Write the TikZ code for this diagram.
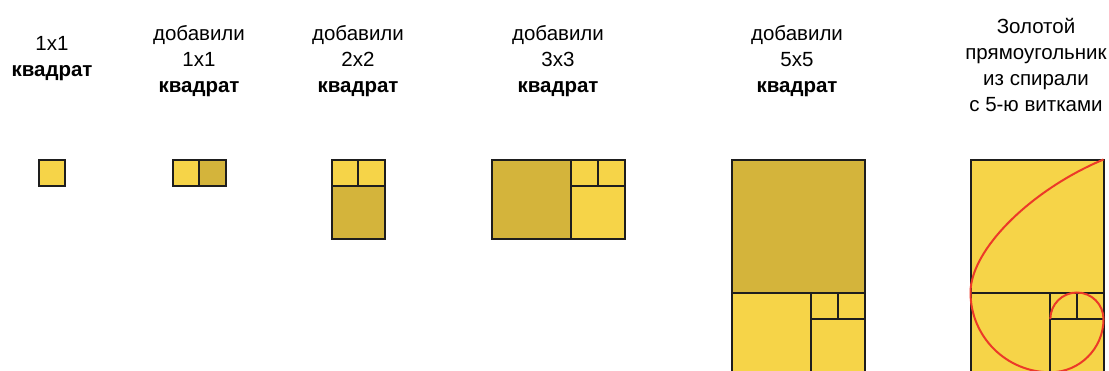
\documentclass[tikz,border=0pt]{standalone}
\usepackage{fontspec}
\setmainfont{Liberation Sans}
\definecolor{goldlite}{RGB}{246,212,72}
\definecolor{golddark}{RGB}{212,180,59}
\definecolor{spiralred}{RGB}{236,58,40}
\definecolor{edgegray}{RGB}{30,30,30}
\begin{document}
\begin{tikzpicture}[
  x=1pt, y=-1pt,
  lbl/.style={align=center, font=\fontsize{20.5}{26}\selectfont, inner sep=0pt},
  sq/.style={draw=edgegray, line width=2pt, fill=goldlite},
  newsq/.style={sq, fill=golddark},
  spiral/.style={draw=spiralred, line width=2pt}
]
\useasboundingbox (0,0) rectangle (1109,370);

% labels
\node[lbl] (t1) at (52,59) {1x1\\\textbf{квадрат}};
\node[lbl] (t2) at (199,61) {добавили\\1x1\\\textbf{квадрат}};
\node[lbl] (t3) at (358,61) {добавили\\2x2\\\textbf{квадрат}};
\node[lbl] (t4) at (558,61) {добавили\\3x3\\\textbf{квадрат}};
\node[lbl] (t5) at (797,61) {добавили\\5x5\\\textbf{квадрат}};
\node[lbl] (t6) at (1036,65) {Золотой\\прямоугольник\\из спирали\\с 5-ю витками};

% 1x1
\begin{scope}[shift={(38.5,159.5)}, x=26.6pt, y=-26.6pt]
  \draw[sq] (0,0) rectangle (1,1);
\end{scope}

% + 1x1
\begin{scope}[shift={(172.5,159.5)}, x=26.6pt, y=-26.6pt]
  \draw[sq] (0,0) rectangle (1,1);
  \draw[newsq] (1,0) rectangle (2,1);
\end{scope}

% + 2x2
\begin{scope}[shift={(331.5,159.5)}, x=26.6pt, y=-26.6pt]
  \draw[sq] (0,0) rectangle (1,1);
  \draw[sq] (1,0) rectangle (2,1);
  \draw[newsq] (0,1) rectangle (2,3);
\end{scope}

% + 3x3
\begin{scope}[shift={(491.5,159.5)}, x=26.6pt, y=-26.6pt]
  \draw[newsq] (0,0) rectangle (3,3);
  \draw[sq] (3,0) rectangle (4,1);
  \draw[sq] (4,0) rectangle (5,1);
  \draw[sq] (3,1) rectangle (5,3);
\end{scope}

% + 5x5
\begin{scope}[shift={(731.5,159.5)}, x=26.6pt, y=-26.6pt]
  \draw[newsq] (0,0) rectangle (5,5);
  \draw[sq] (0,5) rectangle (3,8);
  \draw[sq] (3,5) rectangle (4,6);
  \draw[sq] (4,5) rectangle (5,6);
  \draw[sq] (3,6) rectangle (5,8);
\end{scope}

% golden rectangle with spiral
\begin{scope}[shift={(970.5,159.5)}, x=26.6pt, y=-26.6pt]
  \draw[sq] (0,0) rectangle (5,5);
  \draw[sq] (0,5) rectangle (3,8);
  \draw[sq] (3,5) rectangle (4,6);
  \draw[sq] (4,5) rectangle (5,6);
  \draw[sq] (3,6) rectangle (5,8);
  \draw[spiral] (5,0) .. controls (2.25,1.15) and (0,3.4) .. (0,5)
    .. controls (0,6.657) and (1.343,8) .. (3,8)
    .. controls (4.105,8) and (5,7.105) .. (5,6)
    .. controls (5,5.448) and (4.552,5) .. (4,5)
    .. controls (3.448,5) and (3,5.448) .. (3,6);
\end{scope}
\end{tikzpicture}
\end{document}
